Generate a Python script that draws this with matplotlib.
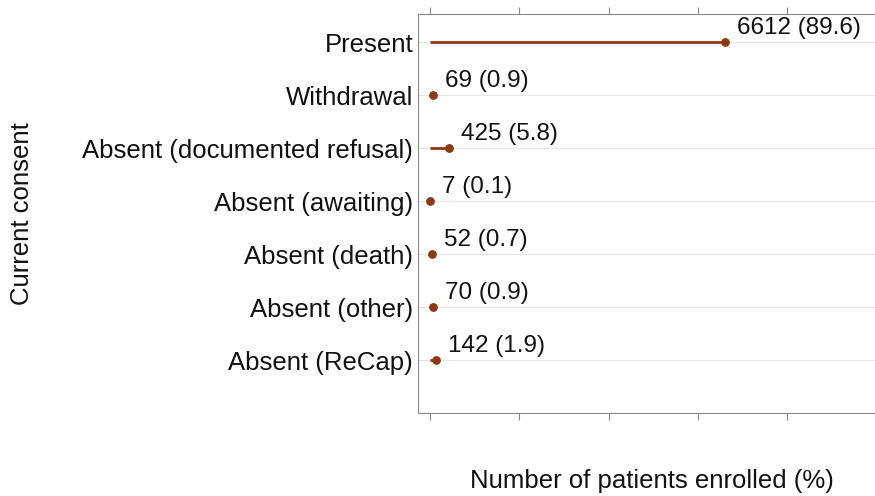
import matplotlib.pyplot as plt
import numpy as np

categories = ['Present', 'Withdrawal', 'Absent (documented refusal)', 'Absent (awaiting)',
              'Absent (death)', 'Absent (other)', 'Absent (ReCap)']
counts = [6612, 69, 425, 7, 52, 70, 142]
percents = [89.6, 0.9, 5.8, 0.1, 0.7, 0.9, 1.9]

plt.rcParams['font.family'] = ['Liberation Sans', 'DejaVu Sans']
col = '#8c3a14'
txt = '#111111'

fig = plt.figure(figsize=(8.75, 4.96), dpi=100)
ax = fig.add_axes([0.4777, 0.1673, 0.5223, 0.8045])

ypos = np.arange(len(categories))[::-1] + 1
ax.hlines(ypos, 0, counts, color=col, lw=2, zorder=3)
ax.scatter(counts, ypos, color=col, s=28, zorder=4)
for y, c, p in zip(ypos, counts, percents):
    ax.annotate(f'{c} ({p})', (c, y), xytext=(12, 14), textcoords='offset pixels',
                ha='left', va='center', fontsize=17.5, color=txt)

ax.set_xlim(-262, 9960)
ax.set_ylim(0, 7.53)
ax.set_xticks([0, 2000, 4000, 6000, 8000])
ax.set_xticklabels([])
ax.set_yticks(ypos)
ax.set_yticklabels(categories, fontsize=18.5, color=txt)
ax.tick_params(axis='y', length=0, pad=3.5)
ax.tick_params(axis='x', top=True, bottom=True, length=5, color='#888888', width=0.8)
ax.grid(axis='y', color='#e6e6e6', lw=0.8, zorder=0)
for s in ['left', 'top', 'bottom']:
    ax.spines[s].set_color('#888888')
    ax.spines[s].set_linewidth(0.8)
ax.spines['right'].set_visible(False)

ax.set_ylabel('Current consent', fontsize=18.5, color=txt)
ax.yaxis.set_label_coords(-0.84, 0.5)
fig.text(0.745, 0.03, 'Number of patients enrolled (%)', fontsize=18.5, color=txt,
         ha='center', va='center')

fig.savefig('out.png', dpi=100)
